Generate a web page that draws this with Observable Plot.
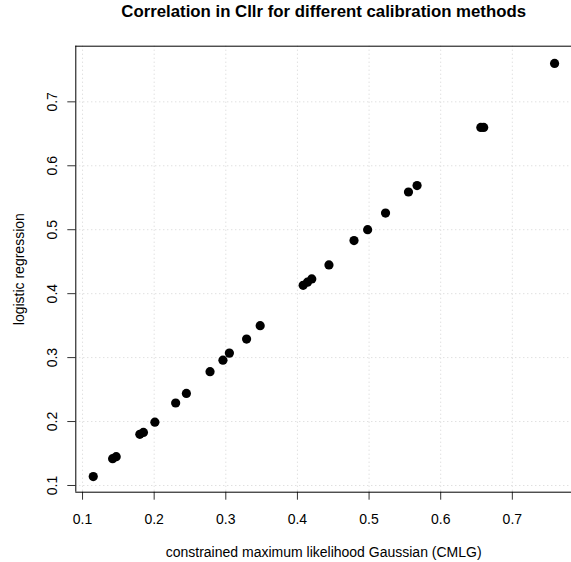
<!DOCTYPE html>
<html>
<head>
<meta charset="utf-8">
<script src="https://cdn.jsdelivr.net/npm/d3@7"></script>
<script src="https://cdn.jsdelivr.net/npm/@observablehq/plot@0.6"></script>
<style>
  html, body { margin: 0; padding: 0; background: #fff; }
  #chart svg { display: block; }
</style>
</head>
<body>
<div id="chart"></div>
<script>
// Cllr under constrained maximum likelihood Gaussian calibration (x)
const cmlg = [0.115, 0.142, 0.147, 0.180, 0.185, 0.201, 0.230, 0.245, 0.278, 0.296,
              0.305, 0.329, 0.348, 0.408, 0.414, 0.420, 0.444, 0.479, 0.498, 0.523,
              0.555, 0.567, 0.656, 0.660, 0.759];
// Cllr under logistic regression calibration (y)
const logreg = [0.114, 0.142, 0.145, 0.180, 0.183, 0.199, 0.229, 0.244, 0.278, 0.296,
                0.307, 0.329, 0.350, 0.413, 0.418, 0.423, 0.445, 0.483, 0.500, 0.526,
                0.559, 0.569, 0.660, 0.660, 0.760];
const xTicks = [0.1, 0.2, 0.3, 0.4, 0.5, 0.6, 0.7];
const yTicks = [0.1, 0.2, 0.3, 0.4, 0.5, 0.6, 0.7];
const xTickLabels = ["0.1", "0.2", "0.3", "0.4", "0.5", "0.6", "0.7"];
const yTickLabels = ["0.1", "0.2", "0.3", "0.4", "0.5", "0.6", "0.7"];
const titleText = "Correlation in Cllr for different calibration methods";
const xLabel = "constrained maximum likelihood Gaussian (CMLG)";
const yLabel = "logistic regression";

const points = cmlg.map((x, i) => ({x, y: logreg[i]}));
const xDomain = [0.0906, 0.7826];
const yDomain = [0.0895, 0.787];

const chart = Plot.plot({
  width: 571,
  height: 562,
  marginLeft: 75.3,
  marginRight: 0,
  marginTop: 45.7,
  marginBottom: 70.3,
  style: {fontFamily: "'Liberation Sans', Arial, Helvetica, sans-serif", background: "#fff", color: "#000"},
  x: {domain: xDomain},
  y: {domain: yDomain},
  marks: [
    // dotted light-gray grid
    Plot.ruleX(xTicks, {x: d => d, stroke: "#d3d3d3", strokeDasharray: "1,3"}),
    Plot.ruleY(yTicks, {y: d => d, stroke: "#d3d3d3", strokeDasharray: "1,3"}),
    // tick marks (no text)
    Plot.axisX(xTicks, {anchor: "bottom", tickSize: 8, tickFormat: () => "", fill: "none", stroke: "#333", label: null}),
    Plot.axisY(yTicks, {anchor: "left", tickSize: 8, tickFormat: () => "", fill: "none", stroke: "#333", label: null}),
    // box (left, top, bottom)
    Plot.ruleX([xDomain[0]], {x: d => d, stroke: "#000"}),
    Plot.ruleY([yDomain[0]], {y: d => d, stroke: "#000"}),
    Plot.ruleY([yDomain[1]], {y: d => d, stroke: "#000"}),
    // tick labels
    Plot.text(xTicks, {x: d => d, text: (d, i) => xTickLabels[i], frameAnchor: "bottom", dy: 31.6,
      lineAnchor: "bottom", fontSize: 14, fill: "#000"}),
    Plot.text(yTicks, {y: d => d, text: (d, i) => yTickLabels[i], frameAnchor: "left", dx: -18.5,
      rotate: -90, textAnchor: "middle", lineAnchor: "bottom", fontSize: 14, fill: "#000"}),
    // axis titles
    Plot.text([xLabel], {text: d => d, frameAnchor: "bottom", dy: 65, lineAnchor: "bottom", fontSize: 14, fill: "#000"}),
    Plot.text([yLabel], {text: d => d, frameAnchor: "left", dx: -51.9, rotate: -90, textAnchor: "middle",
      lineAnchor: "bottom", fontSize: 14, fill: "#000"}),
    // main title
    Plot.text([titleText], {text: d => d, frameAnchor: "top", dy: -29, lineAnchor: "bottom",
      fontSize: 16.8, fontWeight: "bold", fill: "#000"}),
    // data points
    Plot.dot(points, {x: "x", y: "y", r: 4.6, fill: "#000", stroke: "none"})
  ]
});
document.getElementById("chart").appendChild(chart);
</script>
</body>
</html>
